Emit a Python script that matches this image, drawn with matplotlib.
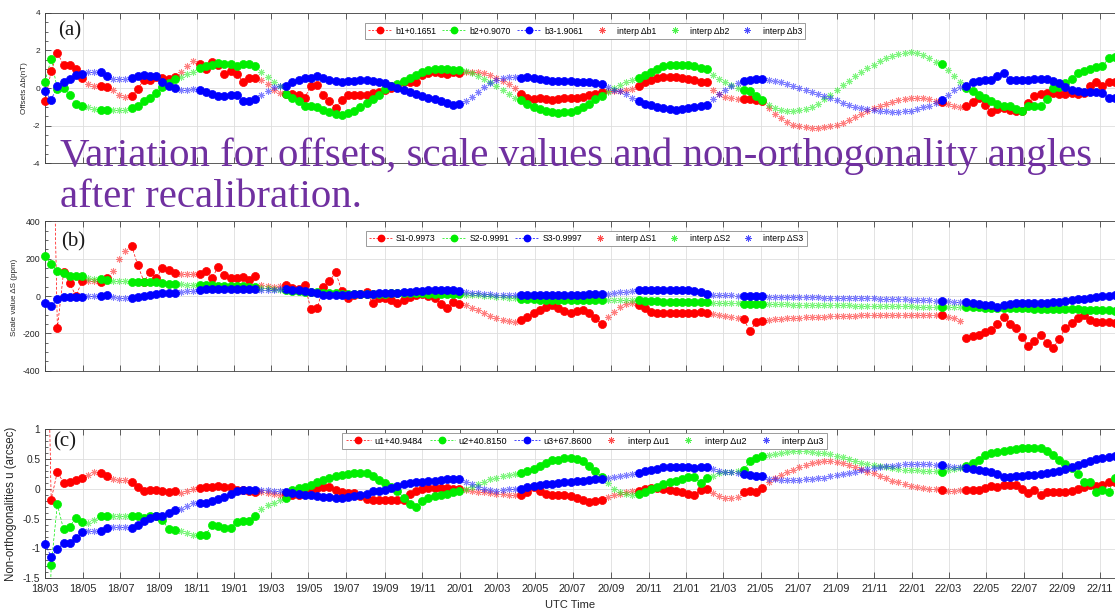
import numpy as np
import matplotlib
matplotlib.use("Agg")
import matplotlib.pyplot as plt
import matplotlib.dates as mdates
from matplotlib.lines import Line2D
from matplotlib.ticker import MultipleLocator, FuncFormatter

plt.rcParams.update({
    "font.family": ["Liberation Sans", "DejaVu Sans"],
    "axes.unicode_minus": False,
})

# ── Estimates every 10 days from 2018-03-01; runs of interpolated epochs ──────
START = "2018-03-01"
END = "2022-12-30"
STEP_DAYS = 10
interp_runs = [(7, 8), (11, 13), (22, 24), (35, 38), (68, 76), (91, 95),
               (108, 112), (117, 144), (146, 148)]

# (a) offsets, nT
b1 = [-0.70, 0.90, 1.85, 1.25, 1.25, 1.00, 0.55, 0.20, 0.12, 0.10, 0.05, -0.10, -0.35, -0.48,
      -0.44, -0.05, 0.45, 0.44, 0.58, 0.53, 0.50, 0.60, 0.85, 1.15, 1.45,
      1.30, 1.00, 1.40, 1.20, 0.75, 0.90, 0.75, 0.35, 0.55, 0.55, 0.45, 0.20, -0.10, -0.25,
      -0.30, -0.30, -0.35, -0.50, 0.10, 0.15, -0.35, -0.70, -1.05, -0.65, -0.35, -0.35, -0.35,
      -0.35, -0.25, -0.20, -0.10, 0.00, 0.05, 0.30, 0.35, 0.30, 0.70, 0.80, 0.85, 0.80, 0.75,
      0.85, 0.80,
      0.85, 0.85, 0.85, 0.80, 0.70, 0.55, 0.40, 0.20, 0.00,
      -0.30, -0.50, -0.60, -0.55, -0.60, -0.65, -0.60, -0.55, -0.55, -0.50, -0.45, -0.35, -0.30,
      -0.20, -0.15, -0.15, -0.15, -0.10, -0.05,
      0.10, 0.30, 0.45, 0.55, 0.60, 0.60, 0.60, 0.55, 0.50, 0.45, 0.35, 0.35,
      -0.10, -0.30, -0.45, -0.55, -0.60, -0.60, -0.60, -0.65, -0.70,
      -1.06, -1.35, -1.60, -1.80, -1.95, -2.00, -2.05, -2.10, -2.10, -2.08, -2.02, -1.95, -1.85,
      -1.70, -1.55, -1.35, -1.20, -1.05, -0.95, -0.85, -0.75, -0.65, -0.58, -0.53, -0.52, -0.55,
      -0.60, -0.70, -0.75, -0.85, -0.95, -1.00,
      -0.94, -0.75, -0.53, -0.90, -1.27, -1.10, -1.06, -1.15, -1.20, -1.24, -0.80, -0.44, -0.30,
      -0.27, -0.27, -0.30, -0.30, -0.27, -0.30, -0.25, 0.10, 0.35, 0.10, 0.35, 0.30, 0.30]
b2 = [0.35, 1.55, -0.05, 0.00, -0.35, -0.83, -0.97, -1.00, -1.10, -1.15, -1.15, -1.15, -1.15,
      -1.15, -1.06, -0.94, -0.70, -0.50, -0.27, 0.05, 0.27, 0.48, 0.58, 0.76, 0.88,
      1.06, 1.15, 1.24, 1.33, 1.30, 1.28, 1.15, 1.30, 1.30, 1.15, 0.88, 0.60, 0.35, 0.10,
      -0.30, -0.53, -0.70, -0.94, -0.97, -1.00, -1.15, -1.29, -1.40, -1.42, -1.33, -1.20, -1.00,
      -0.80, -0.57, -0.35, -0.05, 0.12, 0.23, 0.40, 0.55, 0.70, 0.85, 0.95, 1.00, 1.00, 1.00,
      0.98, 0.95,
      0.90, 0.80, 0.65, 0.50, 0.30, 0.10, -0.10, -0.30, -0.50,
      -0.65, -0.85, -1.00, -1.10, -1.20, -1.25, -1.30, -1.28, -1.25, -1.15, -1.00, -0.85, -0.60,
      -0.40, -0.20, 0.00, 0.15, 0.30, 0.45,
      0.55, 0.70, 0.85, 1.00, 1.15, 1.20, 1.25, 1.25, 1.20, 1.15, 1.06, 1.00,
      0.70, 0.50, 0.35, 0.15, 0.00, -0.10, -0.18, -0.40, -0.62,
      -0.90, -1.05, -1.15, -1.20, -1.20, -1.18, -1.10, -0.98, -0.82, -0.60, -0.35, -0.10, 0.15,
      0.40, 0.65, 0.88, 1.08, 1.25, 1.42, 1.58, 1.70, 1.80, 1.86, 1.90, 1.88, 1.78, 1.60, 1.40,
      1.30, 0.97, 0.65, 0.35,
      0.00, -0.15, -0.35, -0.55, -0.70, -0.85, -0.97, -0.95, -1.10, -1.20, -0.97, -0.94, -0.97,
      -0.57, 0.00, 0.05, 0.25, 0.48, 0.80, 0.92, 1.00, 1.10, 1.15, 1.60, 1.65, 1.65]
b3 = [-0.18, -0.62, 0.12, 0.35, 0.50, 0.70, 0.76, 0.88, 0.88, 0.83, 0.65, 0.48, 0.48, 0.48,
      0.53, 0.65, 0.70, 0.62, 0.65, 0.35, 0.12, 0.00, -0.09, -0.09, -0.05,
      -0.09, -0.23, -0.30, -0.44, -0.44, -0.35, -0.35, -0.70, -0.70, -0.57, -0.35, -0.18, 0.05,
      0.12,
      0.12, 0.35, 0.44, 0.53, 0.53, 0.65, 0.53, 0.44, 0.40, 0.35, 0.40, 0.40, 0.44, 0.44, 0.40,
      0.35, 0.25, 0.12, 0.00, -0.10, -0.20, -0.30, -0.40, -0.50, -0.60, -0.70, -0.80, -0.90,
      -0.86,
      -0.70, -0.45, -0.20, 0.05, 0.25, 0.45, 0.55, 0.60, 0.60,
      0.55, 0.60, 0.55, 0.50, 0.45, 0.40, 0.40, 0.38, 0.38, 0.35, 0.35, 0.30, 0.25, 0.20,
      0.05, -0.10, -0.15, -0.30, -0.50,
      -0.70, -0.85, -0.90, -1.00, -1.05, -1.10, -1.15, -1.10, -1.05, -1.00, -0.94, -0.90,
      -0.60, -0.30, -0.10, 0.10, 0.25, 0.39, 0.42, 0.48, 0.48,
      0.44, 0.38, 0.30, 0.22, 0.12, 0.00, -0.10, -0.20, -0.30, -0.42, -0.55, -0.65, -0.78,
      -0.88, -0.98, -1.05, -1.12, -1.18, -1.22, -1.24, -1.25, -1.25, -1.22, -1.20, -1.12, -1.02,
      -0.94, -0.80, -0.65, -0.35, -0.10, 0.05,
      0.12, 0.30, 0.39, 0.42, 0.44, 0.65, 0.80, 0.44, 0.42, 0.44, 0.44, 0.46, 0.48, 0.48, 0.39,
      0.27, 0.05, -0.12, -0.15, -0.20, -0.23, -0.23, -0.25, -0.53, -0.55, -0.58]

# (b) scale values, ppm (first S1 epoch off the axis)
s1 = [np.nan, 1500, -173, 127, 68, 0, 80, 80, 80, 77, 98, 134, 196, 241,
      270, 166, 77, 130, 98, 152, 139, 125, 116, 116, 116,
      116, 134, 95, 157, 112, 98, 95, 100, 85, 105, 60, 55, 50, 55,
      59, 45, 40, 59, -71, -66, 50, 80, 127, 27, -12, 5, 10, 23, -39, -12, -12, -21, -39, -20,
      -5, 5, 10, 0, -12, -40, -66, -30, -45,
      -50, -62, -75, -90, -105, -118, -128, -135, -137,
      -128, -110, -92, -75, -60, -48, -62, -80, -92, -80, -75, -92, -120, -151,
      -110, -85, -60, -45, -35,
      -48, -65, -87, -90, -92, -90, -92, -90, -92, -90, -88, -90,
      -95, -100, -105, -110, -120, -125, -188, -140, -132,
      -128, -125, -122, -120, -118, -116, -114, -112, -111, -110, -109, -108, -107, -106, -105,
      -104, -104, -103, -103, -102, -102, -101, -101, -100, -100, -100, -100, -100,
      -100, -110, -120, -135,
      -226, -215, -208, -195, -181, -150, -110, -150, -172, -217, -270, -240, -208, -250, -279,
      -230, -172, -146, -119, -101, -128, -137, -137, -140, -145, -150]
s2 = [214, 170, 136, 121, 107, 107, 107, 98, 91, 89, 86, 82, 80, 78,
      73, 73, 73, 73, 73, 68, 64, 62, 62, 60, 59,
      59, 59, 58, 55, 55, 53, 52, 52, 50, 50, 45, 42, 38, 35,
      32, 29, 26, 23, 23, 22, 18, 14, 14, 13, 12, 11, 11, 11, 12, 12, 13, 14, 14, 14, 14, 14, 14,
      13, 13, 12, 12, 11, 10,
      8, 6, 4, 2, 0, -3, -6, -9, -12,
      -15, -17, -18, -20, -21, -21, -22, -22, -22, -22, -22, -21, -21, -21,
      -21, -21, -21, -21, -21,
      -22, -24, -26, -28, -30, -30, -31, -32, -33, -34, -34, -34,
      -36, -37, -38, -39, -39, -40, -41, -42, -43,
      -44, -44, -45, -45, -46, -46, -47, -47, -48, -48, -49, -49, -50, -50, -51, -51, -52, -52,
      -53, -53, -54, -54, -55, -55, -56, -56, -57, -57,
      -57, -58, -58, -59,
      -59, -60, -61, -62, -63, -63, -64, -65, -65, -66, -66, -67, -68, -68, -69, -70, -70, -71,
      -72, -73, -74, -75, -76, -77, -78, -79]
s3 = [-36, -54, -16, -4, -7, -7, -4, 0, 0, 2, 5, -5, -9, -12,
      -12, -7, 0, 5, 9, 14, 18, 18, 20, 25, 29,
      32, 36, 37, 37, 37, 36, 36, 37, 36, 36, 32, 32, 34, 36,
      37, 32, 30, 27, 22, 14, 5, 5, 7, 7, 8, 9, 10, 11, 12, 14, 15, 16, 16, 20, 23, 26, 28, 30,
      32, 32, 32, 30, 26,
      22, 18, 15, 12, 10, 8, 7, 6, 5,
      5, 5, 5, 5, 5, 6, 6, 7, 7, 8, 8, 9, 9, 10,
      13, 16, 20, 24, 28,
      32, 34, 35, 35, 35, 34, 33, 32, 31, 28, 20, 12,
      8, 6, 4, 3, 2, 0, 0, -1, -2,
      -3, -3, -4, -4, -5, -5, -6, -6, -7, -8, -8, -9, -10, -10, -11, -12, -12, -13, -14, -15,
      -16, -17, -18, -19, -20, -21, -22, -24,
      -27, -28, -30, -32,
      -34, -38, -42, -48, -50, -57, -48, -42, -39, -39, -39, -39, -38, -36, -34, -30, -27, -22,
      -18, -14, -10, -6, -2, 2, 5, 6]

# (c) non-orthogonality angles, arcsec (first u1/u2 epochs off the axis)
u1 = [5.0, -0.18, 0.29, 0.10, 0.12, 0.15, 0.18, 0.24, 0.29, 0.27, 0.21, 0.17, 0.15, 0.15,
      0.12, 0.04, -0.03, -0.02, -0.02, -0.03, -0.06, -0.04, -0.07, -0.03, 0.00,
      0.01, 0.03, 0.03, 0.05, 0.04, 0.03, -0.02, -0.02, -0.03, -0.05, -0.05, -0.07, -0.09, -0.10,
      -0.09, -0.10, -0.10, -0.09, -0.05, 0.01, 0.03, 0.03, -0.02, -0.06, -0.07, -0.07, -0.12,
      -0.17, -0.18, -0.19, -0.18, -0.18, -0.18, -0.19, -0.08, -0.03, 0.00, 0.01, 0.01, 0.01,
      0.01, 0.00, 0.00,
      -0.02, -0.03, -0.05, -0.06, -0.07, -0.08, -0.09, -0.10, -0.11,
      -0.11, -0.05, 0.03, -0.04, -0.08, -0.10, -0.11, -0.11, -0.12, -0.15, -0.19, -0.22, -0.20,
      -0.18, -0.14, -0.10, -0.08, -0.06, -0.04,
      -0.03, -0.01, 0.01, 0.01, 0.00, -0.02, -0.04, -0.06, -0.08, -0.10, -0.02, 0.00,
      -0.07, -0.12, -0.15, -0.16, -0.14, -0.05, -0.04, -0.06, 0.01,
      0.12, 0.18, 0.24, 0.28, 0.32, 0.36, 0.40, 0.43, 0.45, 0.46, 0.46, 0.45, 0.43, 0.40, 0.37,
      0.33, 0.29, 0.26, 0.22, 0.18, 0.14, 0.11, 0.08, 0.05, 0.03, 0.01, 0.00, -0.01,
      -0.02, -0.04, -0.03, -0.02,
      -0.02, -0.02, -0.02, 0.02, 0.05, 0.03, 0.07, 0.07, 0.07, -0.01, -0.07, -0.02, -0.10, -0.05,
      -0.05, -0.05, -0.05, -0.03, 0.00, 0.03, 0.07, 0.05, 0.07, 0.12, 0.12, 0.12]
u2 = [-5.0, -1.28, -0.26, -0.68, -0.64, -0.48, -0.55, -0.58, -0.52, -0.46, -0.45, -0.45, -0.45,
      -0.45, -0.45, -0.46, -0.48, -0.45, -0.46, -0.52, -0.68, -0.69, -0.70, -0.74, -0.77,
      -0.77, -0.77, -0.60, -0.62, -0.66, -0.66, -0.55, -0.54, -0.54, -0.45, -0.34, -0.27, -0.23,
      -0.18,
      -0.16, -0.02, 0.01, 0.04, 0.07, 0.12, 0.15, 0.18, 0.22, 0.24, 0.25, 0.26, 0.27, 0.27, 0.21,
      0.15, 0.10, 0.04, -0.03, -0.15, -0.25, -0.30, -0.20, -0.15, -0.12, -0.11, -0.08, -0.06,
      -0.03,
      0.00, 0.04, 0.08, 0.12, 0.16, 0.19, 0.22, 0.24, 0.25,
      0.27, 0.30, 0.33, 0.38, 0.44, 0.49, 0.49, 0.52, 0.52, 0.50, 0.46, 0.38, 0.30, 0.20,
      0.10, 0.00, -0.05, -0.08, -0.10,
      -0.08, -0.06, 0.00, 0.03, 0.08, 0.12, 0.14, 0.16, 0.20, 0.20, 0.10, 0.18,
      0.22, 0.26, 0.28, 0.29, 0.30, 0.32, 0.46, 0.52, 0.55,
      0.57, 0.59, 0.61, 0.62, 0.63, 0.63, 0.63, 0.62, 0.61, 0.60, 0.58, 0.56, 0.53, 0.50, 0.47,
      0.44, 0.42, 0.40, 0.38, 0.36, 0.35, 0.33, 0.32, 0.31, 0.31, 0.30, 0.30, 0.30,
      0.29, 0.31, 0.33, 0.35,
      0.38, 0.43, 0.49, 0.57, 0.61, 0.62, 0.63, 0.66, 0.67, 0.68, 0.69, 0.69, 0.68, 0.63, 0.57,
      0.49, 0.42, 0.35, 0.25, 0.12, 0.12, -0.05, -0.02, -0.05, 0.18, 0.15]
u3 = [-0.92, -1.14, -1.01, -0.91, -0.90, -0.83, -0.73, -0.70, -0.70, -0.70, -0.66, -0.64,
      -0.64, -0.64, -0.65, -0.60, -0.54, -0.49, -0.46, -0.45, -0.40, -0.35, -0.34, -0.29, -0.24,
      -0.23, -0.23, -0.21, -0.17, -0.14, -0.08, -0.03, -0.02, -0.02, -0.02, -0.02, -0.02, -0.03,
      -0.04,
      -0.06, -0.07, -0.08, -0.10, -0.11, -0.12, -0.14, -0.14, -0.16, -0.15, -0.13, -0.12, -0.10,
      -0.08, -0.04, -0.03, -0.02, 0.01, 0.05, 0.08, 0.10, 0.11, 0.12, 0.13, 0.14, 0.15, 0.16,
      0.16, 0.16,
      0.12, 0.08, 0.04, 0.00, -0.02, -0.03, -0.02, -0.01, 0.00,
      0.00, 0.03, 0.05, 0.07, 0.08, 0.09, 0.10, 0.11, 0.12, 0.13, 0.14, 0.15, 0.16, 0.16,
      0.18, 0.20, 0.22, 0.24, 0.25,
      0.27, 0.30, 0.32, 0.34, 0.36, 0.37, 0.37, 0.37, 0.36, 0.35, 0.36, 0.36,
      0.33, 0.30, 0.29, 0.28, 0.27, 0.25, 0.24, 0.22, 0.21,
      0.17, 0.16, 0.15, 0.15, 0.15, 0.15, 0.16, 0.17, 0.18, 0.19, 0.21, 0.23, 0.25, 0.27, 0.29,
      0.31, 0.33, 0.35, 0.36, 0.38, 0.39, 0.40, 0.41, 0.42, 0.42, 0.42, 0.41, 0.40,
      0.40, 0.39, 0.37, 0.36,
      0.35, 0.33, 0.32, 0.30, 0.28, 0.25, 0.20, 0.20, 0.22, 0.22, 0.23, 0.24, 0.25, 0.27, 0.28,
      0.30, 0.33, 0.37, 0.40, 0.44, 0.47, 0.50, 0.52, 0.54, 0.55, 0.56]

labels_a = ["b1+0.1651", "b2+0.9070", "b3-1.9061", "interp \u0394b1", "interp \u0394b2", "interp \u0394b3"]
labels_b = ["S1-0.9973", "S2-0.9991", "S3-0.9997", "interp \u0394S1", "interp \u0394S2", "interp \u0394S3"]
labels_c = ["u1+40.9484", "u2+40.8150", "u3+67.8600", "interp \u0394u1", "interp \u0394u2", "interp \u0394u3"]

COLORS = ["#ff0000", "#00ee00", "#0000ff"]
STAR = (8, 2, 0)
DASH = (0, (4, 2.5))

n = len(b1)
for name, s in [("b2", b2), ("b3", b3), ("s1", s1), ("s2", s2), ("s3", s3),
                ("u1", u1), ("u2", u2), ("u3", u3)]:
    assert len(s) == n, (name, len(s), n)

dates = np.datetime64(START) + np.arange(n) * np.timedelta64(STEP_DAYS, "D")
is_interp = np.zeros(n, dtype=bool)
for lo, hi in interp_runs:
    is_interp[lo:hi + 1] = True

W, H = 1115, 612
fig = plt.figure(figsize=(W / 100, H / 100), dpi=100)


def px(x, y):
    return x / W, 1 - y / H


AX_LEFT, AX_WIDTH = 45 / W, 1091.5 / W
ax_a = fig.add_axes([AX_LEFT, 1 - 163.5 / H, AX_WIDTH, 150.8 / H])
ax_b = fig.add_axes([AX_LEFT, 1 - 370.7 / H, AX_WIDTH, 149.3 / H])
ax_c = fig.add_axes([AX_LEFT, 1 - 578.3 / H, AX_WIDTH, 149.0 / H])

plain = FuncFormatter(lambda v, pos: "%g" % v)


def draw_panel(ax, series, labels, ylim, major, minor, tick_fs, leg_xy, leg_fs, colsp):
    for vals, col in zip(series, COLORS):
        v = np.asarray(vals, dtype=float)
        meas = np.where(is_interp, np.nan, v)
        ax.plot(dates, meas, ls=DASH, lw=0.5, color=col, zorder=2)
        dots = np.where((v < ylim[0]) | (v > ylim[1]), np.nan, meas)
        ax.plot(dates, dots, ls="none", marker="o", ms=5.8, mfc=col, mec=col,
                mew=0.5, zorder=3, clip_on=False)
    for vals, col in zip(series, COLORS):
        v = np.asarray(vals, dtype=float)
        ax.plot(dates, np.where(is_interp, v, np.nan), ls="none", marker=STAR,
                ms=5.0, mew=0.65, color=col, alpha=0.5, zorder=4)

    ax.set_ylim(*ylim)
    ax.set_xlim(np.datetime64(START), np.datetime64(END))
    ax.yaxis.set_major_locator(MultipleLocator(major))
    ax.yaxis.set_minor_locator(MultipleLocator(minor))
    ax.yaxis.set_major_formatter(plain)
    ax.xaxis.set_major_locator(mdates.MonthLocator(bymonth=[1, 3, 5, 7, 9, 11]))
    ax.xaxis.set_major_formatter(mdates.DateFormatter("%y/%m"))
    ax.grid(True, which="major", color="#dedede", lw=0.6)
    ax.set_axisbelow(True)
    ax.tick_params(which="both", direction="in", top=True, right=False,
                   colors="#262626", labelsize=tick_fs, width=0.5)
    ax.tick_params(which="major", length=4)
    ax.tick_params(which="minor", length=2)
    ax.tick_params(axis="x", which="minor", top=False, bottom=False)
    for sp in ax.spines.values():
        sp.set_color("#404040")
        sp.set_linewidth(0.6)

    handles = [Line2D([], [], color=c, ls=(0, (3, 2)), lw=0.5, marker="o", ms=4.6,
                      mfc=c, mec=c) for c in COLORS]
    handles += [Line2D([], [], color=c, ls="none", marker=STAR, ms=4.5, mew=0.6,
                       alpha=0.7) for c in COLORS]
    leg = ax.legend(handles, labels, ncol=6, loc="center", bbox_to_anchor=px(*leg_xy),
                    bbox_transform=fig.transFigure, fontsize=leg_fs, frameon=True,
                    fancybox=False, framealpha=1, edgecolor="#8c8c8c",
                    borderpad=0.35, handlelength=2.8, handletextpad=0.4,
                    columnspacing=colsp, borderaxespad=0)
    leg.get_frame().set_linewidth(0.6)
    leg.set_zorder(6)


draw_panel(ax_a, [b1, b2, b3], labels_a, (-4, 4), 2, 0.5, 6.0, (585, 31), 6.2, 0.7)
draw_panel(ax_b, [s1, s2, s3], labels_b, (-400, 400), 200, 50, 6.3, (586, 238.5), 6.2, 0.7)
draw_panel(ax_c, [u1, u2, u3], labels_c, (-1.5, 1), 0.5, 0.1, 7.3, (584.5, 441), 6.6, 0.7)

for ax in (ax_a, ax_b):
    ax.tick_params(axis="x", labelbottom=False)
ax_c.tick_params(axis="x", pad=4, labelsize=7.9)

# Panel tags and axis titles
SERIF = ["Liberation Serif", "DejaVu Serif"]
for tag, x, y in [("(a)", 58, 31), ("(b)", 61, 242), ("(c)", 53, 442)]:
    fig.text(*px(x, y), tag, family=SERIF, fontsize=15, ha="left", va="center",
             color="#1a1a1a")

fig.text(*px(24, 88), "Offsets \u0394b(nT)", rotation=90, ha="center", va="center",
         fontsize=5.8, color="#262626")
fig.text(*px(14, 297), "Scale value \u0394S (ppm)", rotation=90, ha="center", va="center",
         fontsize=5.8, color="#262626")
fig.text(*px(11, 504), "Non-orthogonalities u (arcsec)", rotation=90, ha="center",
         va="center", fontsize=8.3, color="#262626")
fig.text(*px(570, 605), "UTC Time", ha="center", va="center", fontsize=8, color="#262626")

# Caption over the top panel, sized to span the plotting width
caption = ["Variation for offsets, scale values and non-orthogonality angles",
           "after recalibration."]
PURPLE = "#7030a0"
t1 = fig.text(*px(60, 166), caption[0], family=SERIF, fontsize=28, color=PURPLE,
              ha="left", va="baseline", zorder=10)
fig.canvas.draw()
width_px = t1.get_window_extent().width
fs = 28 * 1034 / width_px
t1.set_fontsize(fs)
fig.text(*px(60, 207), caption[1], family=SERIF, fontsize=fs, color=PURPLE,
         ha="left", va="baseline", zorder=10)

fig.savefig("out.png", dpi=100)
